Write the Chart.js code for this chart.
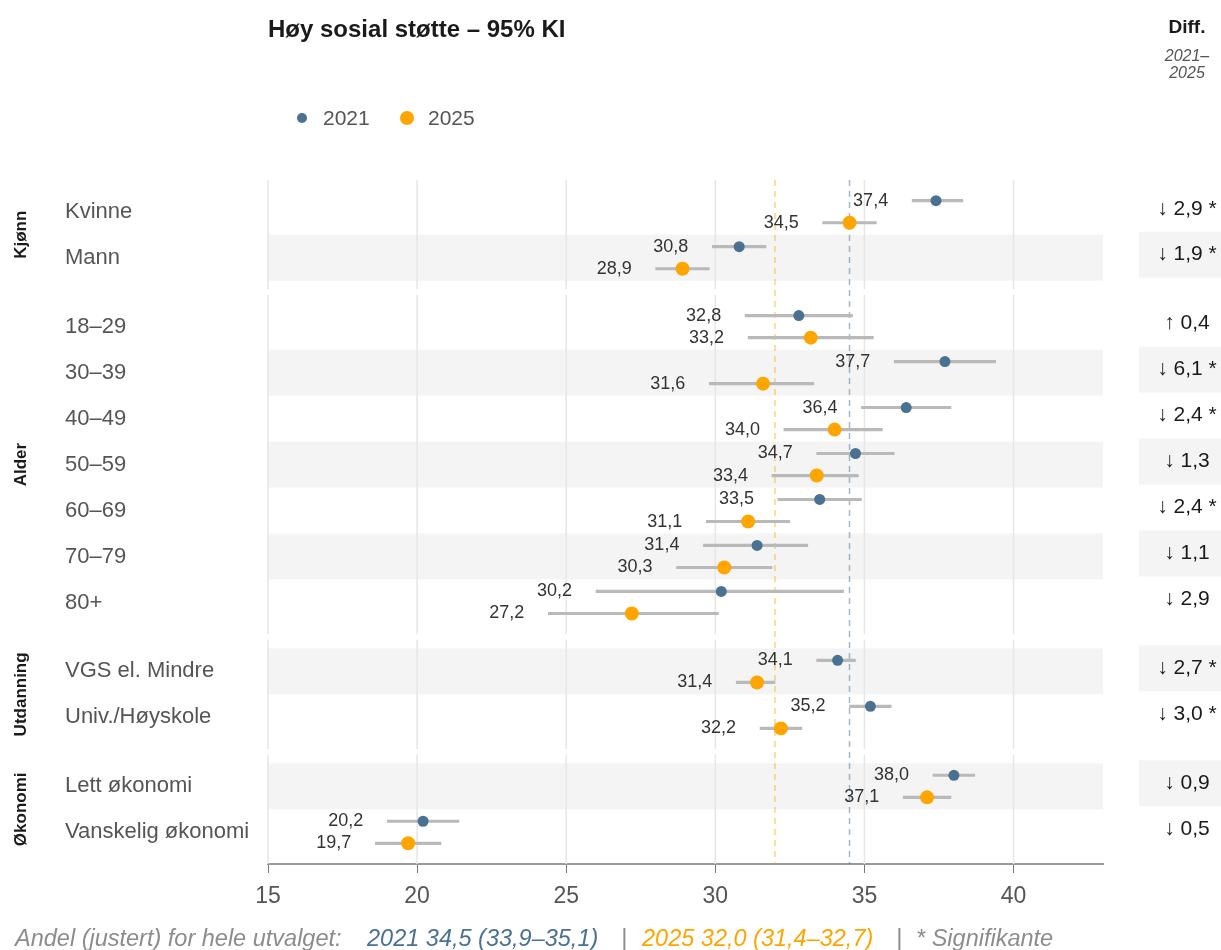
<!DOCTYPE html>
<html lang="no">
<head>
<meta charset="utf-8">
<title>Høy sosial støtte – 95% KI</title>
<script src="https://cdn.jsdelivr.net/npm/chart.js@4.4.1/dist/chart.umd.min.js"></script>
<style>
  html, body { margin: 0; padding: 0; background: #fff; }
  #wrap { width: 1221px; height: 950px; position: relative; }
</style>
</head>
<body>
<div id="wrap"><canvas id="forestChart"></canvas></div>
<script>
// ===== DATA =====
const categories = ["Kvinne", "Mann", "18–29", "30–39", "40–49", "50–59", "60–69", "70–79", "80+",
  "VGS el. Mindre", "Univ./Høyskole", "Lett økonomi", "Vanskelig økonomi"];
const groupNames = ["Kjønn", "Alder", "Utdanning", "Økonomi"];
const groupOf = [0, 0, 1, 1, 1, 1, 1, 1, 1, 2, 2, 3, 3];

const v2021 = [37.4, 30.8, 32.8, 37.7, 36.4, 34.7, 33.5, 31.4, 30.2, 34.1, 35.2, 38.0, 20.2];
const lo2021 = [36.6, 29.9, 31.0, 36.0, 34.9, 33.4, 32.1, 29.6, 26.0, 33.4, 34.5, 37.3, 19.0];
const hi2021 = [38.3, 31.7, 34.6, 39.4, 37.9, 36.0, 34.9, 33.1, 34.3, 34.7, 35.9, 38.7, 21.4];

const v2025 = [34.5, 28.9, 33.2, 31.6, 34.0, 33.4, 31.1, 30.3, 27.2, 31.4, 32.2, 37.1, 19.7];
const lo2025 = [33.6, 28.0, 31.1, 29.8, 32.3, 31.9, 29.7, 28.7, 24.4, 30.7, 31.5, 36.3, 18.6];
const hi2025 = [35.4, 29.8, 35.3, 33.3, 35.6, 34.8, 32.5, 31.9, 30.1, 32.0, 32.9, 37.9, 20.8];

const diffs = [-2.9, -1.9, 0.4, -6.1, -2.4, -1.3, -2.4, -1.1, -2.9, -2.7, -3.0, -0.9, -0.5];
const significant = [true, true, false, true, true, false, true, false, false, true, true, false, false];

const total2021 = [34.5, 33.9, 35.1];
const total2025 = [32.0, 31.4, 32.7];

const xTicks = [15, 20, 25, 30, 35, 40];

// ===== STYLE =====
const FONT = '"Liberation Sans", Arial, sans-serif';
const BLUE = "#4a7191";
const ORANGE = "#ffa500";
const CI_GRAY = "#b9b9b9";
const PANEL_PAD = 0.69;
const DOT_OFFSET = 0.24;

const fmt = (v) => v.toFixed(1).replace(".", ",");

// row positions: gap of half a row between groups
const rowPos = categories.map((_, i) => i + 0.5 * groupOf[i]);
const yMin = rowPos[0] - PANEL_PAD;
const yMax = rowPos[rowPos.length - 1] + PANEL_PAD;

const decorPlugin = {
  id: "decor",
  beforeDatasetsDraw(chart) {
    const { ctx, chartArea, scales: { x, y } } = chart;
    ctx.save();
    ctx.fillStyle = "#f4f4f4";
    rowPos.forEach((p, i) => {
      if (i % 2 === 1) {
        const top = y.getPixelForValue(p - 0.5);
        const bot = y.getPixelForValue(p + 0.5);
        ctx.fillRect(chartArea.left, top, chartArea.right - chartArea.left, bot - top);
        ctx.fillRect(1139, top - 3, 82, bot - top);
      }
    });
    ctx.strokeStyle = "#e6e6e6";
    ctx.lineWidth = 1.5;
    groupNames.forEach((g, gi) => {
      const ps = rowPos.filter((_, i) => groupOf[i] === gi);
      const top = y.getPixelForValue(ps[0] - PANEL_PAD);
      const bot = y.getPixelForValue(ps[ps.length - 1] + PANEL_PAD);
      xTicks.forEach((t) => {
        const px = x.getPixelForValue(t);
        ctx.beginPath();
        ctx.moveTo(px, top);
        ctx.lineTo(px, bot);
        ctx.stroke();
      });
    });
    ctx.restore();
  },
  afterDatasetsDraw(chart) {
    const { ctx, scales: { x, y } } = chart;
    ctx.save();
    ctx.font = "18px " + FONT;
    ctx.fillStyle = "#333";
    ctx.textAlign = "right";
    ctx.textBaseline = "middle";
    rowPos.forEach((p, i) => {
      ctx.fillText(fmt(v2021[i]), x.getPixelForValue(lo2021[i]) - 24, y.getPixelForValue(p - DOT_OFFSET));
      ctx.fillText(fmt(v2025[i]), x.getPixelForValue(lo2025[i]) - 24, y.getPixelForValue(p + DOT_OFFSET));
    });
    ctx.restore();
  },
  afterDraw(chart) {
    const { ctx, scales: { y } } = chart;
    ctx.save();
    ctx.textBaseline = "middle";

    // title
    ctx.fillStyle = "#1a1a1a";
    ctx.font = "bold 24px " + FONT;
    ctx.textAlign = "left";
    ctx.fillText("Høy sosial støtte – 95% KI", 268, 30);

    // legend
    ctx.font = "21px " + FONT;
    ctx.fillStyle = BLUE;
    ctx.beginPath(); ctx.arc(302, 118, 5, 0, Math.PI * 2); ctx.fill();
    ctx.fillStyle = ORANGE;
    ctx.beginPath(); ctx.arc(407, 118, 7, 0, Math.PI * 2); ctx.fill();
    ctx.fillStyle = "#555";
    ctx.fillText("2021", 323, 119);
    ctx.fillText("2025", 428, 119);

    // diff header
    ctx.textAlign = "center";
    ctx.fillStyle = "#1a1a1a";
    ctx.font = "bold 19px " + FONT;
    ctx.fillText("Diff.", 1187, 28);
    ctx.fillStyle = "#555";
    ctx.font = "italic 16px " + FONT;
    ctx.fillText("2021–", 1187, 57);
    ctx.fillText("2025", 1187, 74);

    // diff values
    ctx.fillStyle = "#1a1a1a";
    ctx.font = "21px " + FONT;
    rowPos.forEach((p, i) => {
      const d = diffs[i];
      const txt = (d >= 0 ? "↑ " : "↓ ") + fmt(Math.abs(d)) + (significant[i] ? " *" : "");
      ctx.fillText(txt, 1187, y.getPixelForValue(p) - 3);
    });

    // group labels
    ctx.font = "bold 17px " + FONT;
    ctx.fillStyle = "#1a1a1a";
    groupNames.forEach((g, gi) => {
      const ps = rowPos.filter((_, i) => groupOf[i] === gi);
      const cy = y.getPixelForValue((ps[0] + ps[ps.length - 1]) / 2);
      ctx.save();
      ctx.translate(21, cy);
      ctx.rotate(-Math.PI / 2);
      ctx.fillText(g, 0, 0);
      ctx.restore();
    });

    // footer
    ctx.textAlign = "left";
    ctx.textBaseline = "alphabetic";
    ctx.font = "italic 23.5px " + FONT;
    const gray = "#8c8c8c";
    const parts = [
      ["Andel (justert) for hele utvalget:", gray, 15],
      ["2021 " + fmt(total2021[0]) + " (" + fmt(total2021[1]) + "–" + fmt(total2021[2]) + ")", BLUE, 367],
      ["|", gray, 621],
      ["2025 " + fmt(total2025[0]) + " (" + fmt(total2025[1]) + "–" + fmt(total2025[2]) + ")", ORANGE, 642],
      ["|", gray, 896],
      ["* Signifikante", gray, 916],
    ];
    parts.forEach(([t, c, px]) => {
      ctx.fillStyle = c;
      ctx.fillText(t, px, 946);
    });
    ctx.restore();
  },
};

const ctx = document.getElementById("forestChart");

new Chart(ctx, {
  type: "scatter",
  data: {
    datasets: [
      {
        type: "line",
        label: "Total 2021",
        data: [{ x: total2021[0], y: yMin }, { x: total2021[0], y: yMax }],
        borderColor: "rgba(74,113,145,0.5)",
        borderWidth: 1.5,
        borderDash: [6, 5],
        pointRadius: 0,
        order: 4,
      },
      {
        type: "line",
        label: "Total 2025",
        data: [{ x: total2025[0], y: yMin }, { x: total2025[0], y: yMax }],
        borderColor: "rgba(255,165,0,0.5)",
        borderWidth: 1.5,
        borderDash: [6, 5],
        pointRadius: 0,
        order: 4,
      },
      {
        type: "bar",
        label: "KI 2021",
        indexAxis: "y",
        data: rowPos.map((p, i) => ({ x: [lo2021[i], hi2021[i]], y: p - DOT_OFFSET })),
        backgroundColor: CI_GRAY,
        barThickness: 2.5,
        grouped: false,
        order: 3,
      },
      {
        type: "bar",
        label: "KI 2025",
        indexAxis: "y",
        data: rowPos.map((p, i) => ({ x: [lo2025[i], hi2025[i]], y: p + DOT_OFFSET })),
        backgroundColor: CI_GRAY,
        barThickness: 2.5,
        grouped: false,
        order: 3,
      },
      {
        label: "2021",
        data: rowPos.map((p, i) => ({ x: v2021[i], y: p - DOT_OFFSET })),
        backgroundColor: BLUE,
        pointRadius: 5.5,
        pointBorderWidth: 0,
        order: 1,
      },
      {
        label: "2025",
        data: rowPos.map((p, i) => ({ x: v2025[i], y: p + DOT_OFFSET })),
        backgroundColor: ORANGE,
        pointRadius: 7,
        pointBorderWidth: 0,
        order: 1,
      },
    ],
  },
  options: {
    responsive: true,
    maintainAspectRatio: false,
    animation: false,
    layout: {
      padding: { top: 180, left: 65, right: 118, bottom: 26 },
    },
    plugins: {
      legend: { display: false },
      tooltip: { enabled: false },
      title: { display: false },
    },
    scales: {
      x: {
        type: "linear",
        min: 15,
        max: 43,
        offset: false,
        afterBuildTicks: (scale) => {
          scale.ticks = xTicks.map((v) => ({ value: v }));
        },
        afterFit: (scale) => {
          scale.height = 60;
        },
        ticks: {
          color: "#555",
          padding: 10,
          font: { family: FONT, size: 23 },
        },
        grid: {
          drawOnChartArea: false,
          drawTicks: true,
          tickLength: 9,
          tickColor: "#777",
          tickWidth: 1,
        },
        border: { display: true, color: "#999", width: 2 },
      },
      y: {
        type: "linear",
        reverse: true,
        offset: false,
        min: yMin,
        max: yMax,
        afterBuildTicks: (scale) => {
          scale.ticks = rowPos.map((v) => ({ value: v }));
        },
        afterFit: (scale) => {
          scale.width = 203;
        },
        ticks: {
          autoSkip: false,
          crossAlign: "far",
          color: "#555",
          font: { family: FONT, size: 22 },
          callback: (value, index) => categories[index],
        },
        grid: { display: false, offset: false },
        border: { display: false },
      },
    },
  },
  plugins: [decorPlugin],
});
</script>
</body>
</html>
